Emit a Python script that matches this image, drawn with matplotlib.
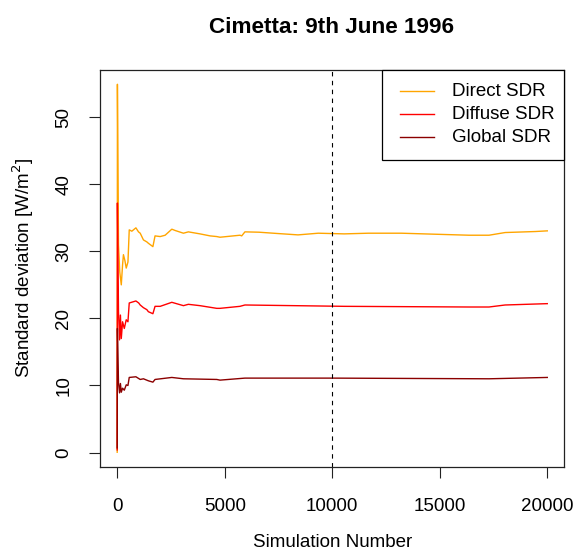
import matplotlib
matplotlib.use('Agg')
import matplotlib.pyplot as plt
from matplotlib.patches import Rectangle

plt.rcParams['font.family'] = ['Liberation Sans', 'DejaVu Sans']

# Running standard deviation (simulation number, W/m2)
direct_x = [0, 10, 60, 120, 190, 250, 290, 360, 420, 500, 560, 680, 870, 990,
            1070, 1220, 1380, 1450, 1660, 1760, 2000, 2230, 2540, 2700, 3080,
            3310, 3850, 4320, 4630, 4780, 5710, 5790, 5940, 6590, 7480, 8410,
            9350, 10560, 11680, 13220, 14770, 16360, 17290, 18040, 19440, 20000]
direct_y = [0.05, 54.9, 31.0, 26.9, 25.0, 28.0, 29.5, 28.6, 27.5, 28.4, 33.2,
            33.0, 33.5, 32.9, 32.7, 31.7, 31.4, 31.2, 30.7, 32.3, 32.2, 32.4,
            33.3, 33.1, 32.7, 32.9, 32.6, 32.3, 32.2, 32.1, 32.4, 32.3, 32.9,
            32.85, 32.65, 32.45, 32.7, 32.6, 32.7, 32.7, 32.55, 32.4, 32.4,
            32.8, 32.95, 33.05]

diffuse_x = [0, 10, 60, 110, 150, 190, 250, 330, 420, 500, 560, 870, 1000,
             1070, 1220, 1380, 1450, 1660, 1760, 2000, 2540, 3080, 3310, 3850,
             4630, 4780, 5710, 5940, 10560, 16360, 17290, 18040, 20000]
diffuse_y = [0.4, 37.2, 21.0, 16.8, 20.5, 17.0, 19.5, 18.5, 19.8, 19.5, 22.3,
             22.6, 22.3, 22.0, 21.6, 21.3, 21.0, 20.7, 21.8, 21.8, 22.4, 21.9,
             22.1, 21.9, 21.5, 21.5, 21.8, 22.0, 21.8, 21.7, 21.7, 22.0, 22.2]

global_x = [0, 10, 60, 110, 150, 190, 250, 330, 420, 500, 560, 870, 1070,
            1220, 1450, 1660, 1760, 2540, 3080, 4630, 4780, 5940, 10000,
            17290, 20000]
global_y = [0.7, 18.5, 10.4, 8.9, 10.3, 9.0, 9.6, 9.3, 10.1, 10.0, 11.2, 11.3,
            10.9, 11.0, 10.7, 10.5, 10.9, 11.2, 11.0, 10.9, 10.8, 11.1, 11.1,
            11.0, 11.2]

series_names = ['Direct SDR', 'Diffuse SDR', 'Global SDR']
series_colors = ['#FFA500', '#FF0000', '#8B0000']

x_ticks = [0, 5000, 10000, 15000, 20000]
y_ticks = [0, 10, 20, 30, 40, 50]
marker_x = 10000

fig = plt.figure(figsize=(5.76, 5.53), dpi=100)
ax = fig.add_axes([0.1736, 0.1555, 0.8064, 0.7188])

for (xs, ys), name, col in zip([(direct_x, direct_y), (diffuse_x, diffuse_y),
                                 (global_x, global_y)],
                                series_names, series_colors):
    ax.plot(xs, ys, color=col, lw=1.0, label=name)
ax.axvline(marker_x, color='black', lw=0.8, linestyle=(0, (4, 4)))

ax.set_xlim(-800, 20800)
ax.set_ylim(-2.15, 57.1)
ax.set_xticks(x_ticks)
ax.set_yticks(y_ticks)
ax.set_xticklabels([str(t) for t in x_ticks], fontsize=13.5)
ax.set_yticklabels([str(t) for t in y_ticks], fontsize=13.5, rotation=90,
                   va='center')
ax.tick_params(axis='x', length=8, width=0.8, pad=14, color='#222222')
ax.tick_params(axis='y', length=8, width=0.8, pad=12, color='#222222')
for s in ax.spines.values():
    s.set_linewidth(0.9)
    s.set_color('#222222')

ax.set_xlabel('Simulation Number', fontsize=13.5, labelpad=14)
ax.set_ylabel('Standard deviation [W/m$^2$]', fontsize=13.5, labelpad=14)
fig.text(0.575, 0.951, 'Cimetta: 9th June 1996', fontsize=16.2,
         fontweight='bold', ha='center', va='center')

# R-style legend box in the top right corner (axes coordinates)
ax.add_patch(Rectangle((0.608, 0.7736), 0.392, 0.2264, transform=ax.transAxes,
                       facecolor='white', edgecolor='black', lw=0.9,
                       zorder=5, clip_on=False))
for i, (name, col) in enumerate(zip(series_names, series_colors)):
    yy = 0.9459 - i * 0.0579
    ax.plot([0.6459, 0.7191], [yy, yy], color=col, lw=1.0,
            transform=ax.transAxes, zorder=6, clip_on=False)
    ax.text(0.7572, yy, name, fontsize=13.5, va='center', ha='left',
            transform=ax.transAxes, zorder=6)

fig.savefig('out.png', dpi=100)
